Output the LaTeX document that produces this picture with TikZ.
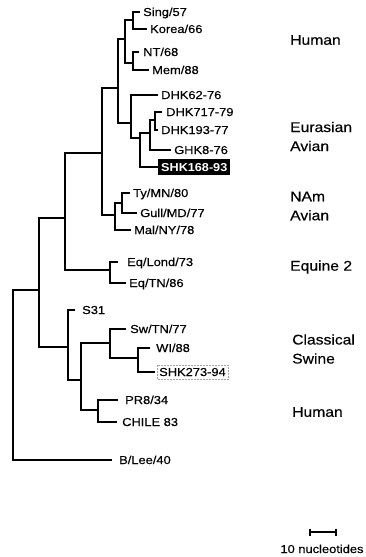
\documentclass[tikz,border=0pt]{standalone}
\usepackage{fontspec}
\newfontfamily\lsf{Liberation Sans}[FakeStretch=1.12,FakeBold=0.35]
\newfontfamily\lsfb{Liberation Sans Bold}[FakeStretch=1.1]
\begin{document}
\begin{tikzpicture}[x=1pt,y=-1pt,
  br/.style={line width=1.7pt, line join=miter},
  leaf/.style={anchor=west, inner sep=0pt, text height=8pt, text depth=0pt, font=\lsf\fontsize{11.5}{13}\selectfont},
  grp/.style={anchor=west, inner sep=0pt, align=left, font=\lsf\fontsize{14}{19}\selectfont},
  hl/.style={leaf, fill=black, text=white, inner xsep=3pt, inner ysep=4pt, font=\lsfb\fontsize{11.5}{13}\selectfont}]
\useasboundingbox (0,0) rectangle (365,557);

% leaves
\node[leaf] (sing)   at (143,12)  {Sing/57};
\node[leaf] (korea)  at (150,29)  {Korea/66};
\node[leaf] (nt)     at (143,52)  {NT/68};
\node[leaf] (mem)    at (152,70)  {Mem/88};
\node[leaf] (dhka)   at (161,95)  {DHK62-76};
\node[leaf] (dhkb)   at (166,112) {DHK717-79};
\node[leaf] (dhkc)   at (161,130) {DHK193-77};
\node[leaf] (ghk)    at (174,150) {GHK8-76};
\node[hl]   (shka)   at (158,167) {SHK168-93};
\node[leaf] (ty)     at (133,193) {Ty/MN/80};
\node[leaf] (gull)   at (140,213) {Gull/MD/77};
\node[leaf] (mal)    at (134,230) {Mal/NY/78};
\node[leaf] (eql)    at (127,262) {Eq/Lond/73};
\node[leaf] (eqt)    at (129,283) {Eq/TN/86};
\node[leaf] (s31)    at (82,310)  {S31};
\node[leaf] (swtn)   at (130,329) {Sw/TN/77};
\node[leaf] (wi)     at (156,348) {WI/88};
\node[leaf] (shkb)   at (159,372) {SHK273-94};
\node[leaf] (pr)     at (125,400) {PR8/34};
\node[leaf] (chile)  at (122,422) {CHILE 83};
\node[leaf] (blee)   at (119,460) {B/Lee/40};

\draw[gray!70, densely dotted, line width=0.5pt]
  ([xshift=-2pt,yshift=3pt]shkb.north west) rectangle ([xshift=2pt,yshift=-3pt]shkb.south east);

% internal nodes
\coordinate (R)   at (13,290);
\coordinate (A)   at (39,290);
\coordinate (B)   at (65,218);
\coordinate (C)   at (102,153);
\coordinate (D)   at (118,88);
\coordinate (Hu)  at (125,39);
\coordinate (SK)  at (133,20);
\coordinate (NM)  at (133,63);
\coordinate (E)   at (131,123);
\coordinate (E2)  at (140,138);
\coordinate (E3)  at (150,133);
\coordinate (E4)  at (155,120);
\coordinate (NA)  at (115,215);
\coordinate (TG)  at (122,203);
\coordinate (Eq)  at (110,270);
\coordinate (S)   at (68,347);
\coordinate (SW)  at (81,380);
\coordinate (Swn) at (110,343);
\coordinate (WIn) at (138,358);
\coordinate (PC)  at (98,410);

% branches
\draw[br] (A) -- (R |- A) -- (R |- blee) -- ([xshift=-7pt]blee.west);
\draw[br] (B) -- (A |- B) -- (A |- S) -- (S);
\draw[br] (C) -- (B |- C) -- (B |- Eq) -- (Eq);
\draw[br] (D) -- (C |- D) -- (C |- NA) -- (NA);
\draw[br] (Hu) -- (D |- Hu) -- (D |- E) -- (E);
\draw[br] (SK) -- (Hu |- SK) -- (Hu |- NM) -- (NM);
\draw[br] ([xshift=-3pt]sing.west) -- (SK |- sing) -- (SK |- korea) -- ([xshift=-3pt]korea.west);
\draw[br] ([xshift=-4pt]nt.west) -- (NM |- nt) -- (NM |- mem) -- ([xshift=-3pt]mem.west);
\draw[br] ([xshift=-3pt]dhka.west) -- (E |- dhka) -- (E |- E2) -- (E2);
\draw[br] (E3) -- (E2 |- E3) -- (E2 |- shka) -- (shka.west);
\draw[br] (E4) -- (E3 |- E4) -- (E3 |- ghk) -- ([xshift=-3pt]ghk.west);
\draw[br] ([xshift=-4pt]dhkb.west) -- (E4 |- dhkb) -- (E4 |- dhkc) -- ([xshift=-3pt]dhkc.west);
\draw[br] (TG) -- (NA |- TG) -- (NA |- mal) -- ([xshift=-3pt]mal.west);
\draw[br] ([xshift=-3pt]ty.west) -- (TG |- ty) -- (TG |- gull) -- ([xshift=-3pt]gull.west);
\draw[br] ([xshift=-9pt]eql.west) -- (Eq |- eql) -- (Eq |- eqt) -- ([xshift=-3pt]eqt.west);
\draw[br] ([xshift=-7pt]s31.west) -- (S |- s31) -- (S |- SW) -- (SW);
\draw[br] (Swn) -- (SW |- Swn) -- (SW |- PC) -- (PC);
\draw[br] ([xshift=-4pt]swtn.west) -- (Swn |- swtn) -- (Swn |- WIn) -- (WIn);
\draw[br] ([xshift=-6pt]wi.west) -- (WIn |- wi) -- (WIn |- shkb) -- ([xshift=-4pt]shkb.west);
\draw[br] ([xshift=-7pt]pr.west) -- (PC |- pr) -- (PC |- chile) -- ([xshift=-5pt]chile.west);

% group labels
\node[grp] (g1) at (290,40)  {Human};
\node[grp] (g2) at (290,136.5) {Eurasian\\Avian};
\node[grp] (g3) at (290,206) {NAm\\Avian};
\node[grp] (g4) at (290,267) {Equine 2};
\node[grp] (g5) at (292,349) {Classical\\Swine};
\node[grp] (g6) at (292,412) {Human};

% scale bar
\node[leaf, anchor=center] (sbl) at (322,549) {10 nucleotides};
\coordinate (sb1) at (310,532);
\coordinate (sb2) at (336,532);
\draw[line width=1.5pt] (sb1) -- (sb2);
\draw[line width=1.5pt] ([yshift=3.5pt]sb1) -- ([yshift=-3.5pt]sb1);
\draw[line width=1.5pt] ([yshift=3.5pt]sb2) -- ([yshift=-3.5pt]sb2);
\end{tikzpicture}
\end{document}
